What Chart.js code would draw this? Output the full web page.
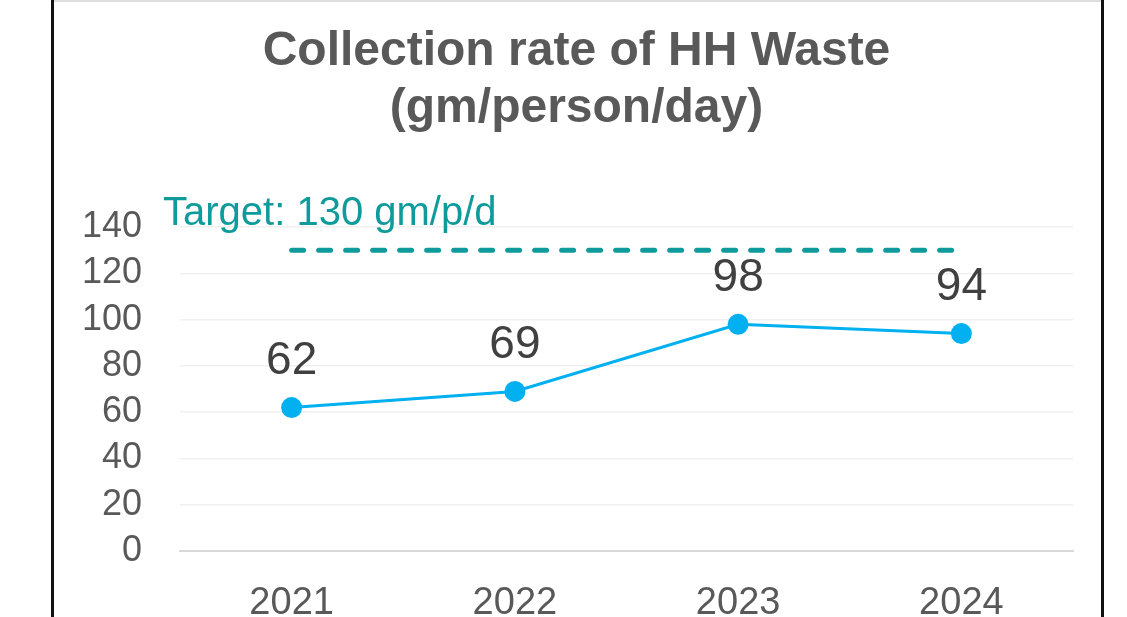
<!DOCTYPE html>
<html>
<head>
<meta charset="utf-8">
<script src="https://cdn.jsdelivr.net/npm/chart.js"></script>
<style>
  html, body { margin: 0; padding: 0; background: #fff; }
  #wrap { position: absolute; left: 0; top: 0; width: 1127px; height: 617px; }
  .edge { position: absolute; top: 0; height: 617px; width: 3px; background: #111; }
  #topline { position: absolute; left: 54px; top: 0; width: 1047px; height: 2px; background: #dedede; }
</style>
</head>
<body>
<div id="wrap"><canvas id="chart" width="1127" height="617"></canvas></div>
<div class="edge" style="left:51px"></div>
<div class="edge" style="left:1101px"></div>
<div id="topline"></div>
<script>
// chart data
const years = ['2021', '2022', '2023', '2024'];
const collectionRate = [62, 69, 98, 94];
const targetRate = [130, 130, 130, 130];
const targetText = 'Target: 130 gm/p/d';
const titleLines = ['Collection rate of HH Waste', '(gm/person/day)'];

// value labels above each point + target caption
const labelPlugin = {
  id: 'labels',
  afterDatasetsDraw(chart) {
    const ctx = chart.ctx;
    const meta = chart.getDatasetMeta(0);
    ctx.save();
    ctx.font = '46px "Liberation Sans", Arial, sans-serif';
    ctx.fillStyle = '#404040';
    ctx.textAlign = 'center';
    ctx.textBaseline = 'middle';
    meta.data.forEach((pt, i) => {
      ctx.fillText(String(collectionRate[i]), pt.x, pt.y - 46);
    });
    // target caption
    const y = chart.scales.y.getPixelForValue(targetRate[0]);
    ctx.font = '40px "Liberation Sans", Arial, sans-serif';
    ctx.fillStyle = '#0f9b9b';
    ctx.textAlign = 'left';
    ctx.fillText(targetText, 163, y - 36);
    ctx.restore();
  }
};

const ctx = document.getElementById('chart').getContext('2d');
new Chart(ctx, {
  type: 'line',
  data: {
    labels: years,
    datasets: [
      {
        label: 'Collection rate',
        data: collectionRate,
        borderColor: '#00b0f0',
        backgroundColor: '#00b0f0',
        borderWidth: 3,
        pointRadius: 10.5,
        pointHoverRadius: 10.5,
        pointBackgroundColor: '#00b0f0',
        pointBorderWidth: 0,
        tension: 0
      },
      {
        label: 'Target',
        data: targetRate,
        borderColor: '#0f9b9b',
        borderWidth: 5,
        borderDash: [12, 15],
        borderCapStyle: 'round',
        pointRadius: 0,
        tension: 0
      }
    ]
  },
  options: {
    responsive: false,
    animation: false,
    // left padding keeps the title centred where the original is
    layout: { padding: { left: 80, right: 54, top: 0, bottom: 0 } },
    plugins: {
      legend: { display: false },
      tooltip: { enabled: false },
      title: {
        display: true,
        text: titleLines,
        color: '#595959',
        font: { family: '"Liberation Sans", Arial, sans-serif', size: 48, weight: 'bold', lineHeight: 1.19 },
        padding: { top: 23, bottom: 90 }
      }
    },
    scales: {
      x: {
        offset: true,
        grid: { display: false, drawTicks: false },
        border: { display: true, color: '#d9d9d9', width: 2 },
        ticks: {
          color: '#595959',
          padding: 30,
          font: { family: '"Liberation Sans", Arial, sans-serif', size: 38 }
        },
        afterFit(scale) { scale.height = 66; }
      },
      y: {
        min: 0,
        max: 140,
        grid: { color: '#f0f0f0', lineWidth: 1.5, drawTicks: false },
        border: { display: false },
        ticks: {
          stepSize: 20,
          color: '#595959',
          padding: 38,
          font: { family: '"Liberation Sans", Arial, sans-serif', size: 36 }
        },
        afterFit(scale) { scale.width = 100; }
      }
    }
  },
  plugins: [labelPlugin]
});
</script>
</body>
</html>
